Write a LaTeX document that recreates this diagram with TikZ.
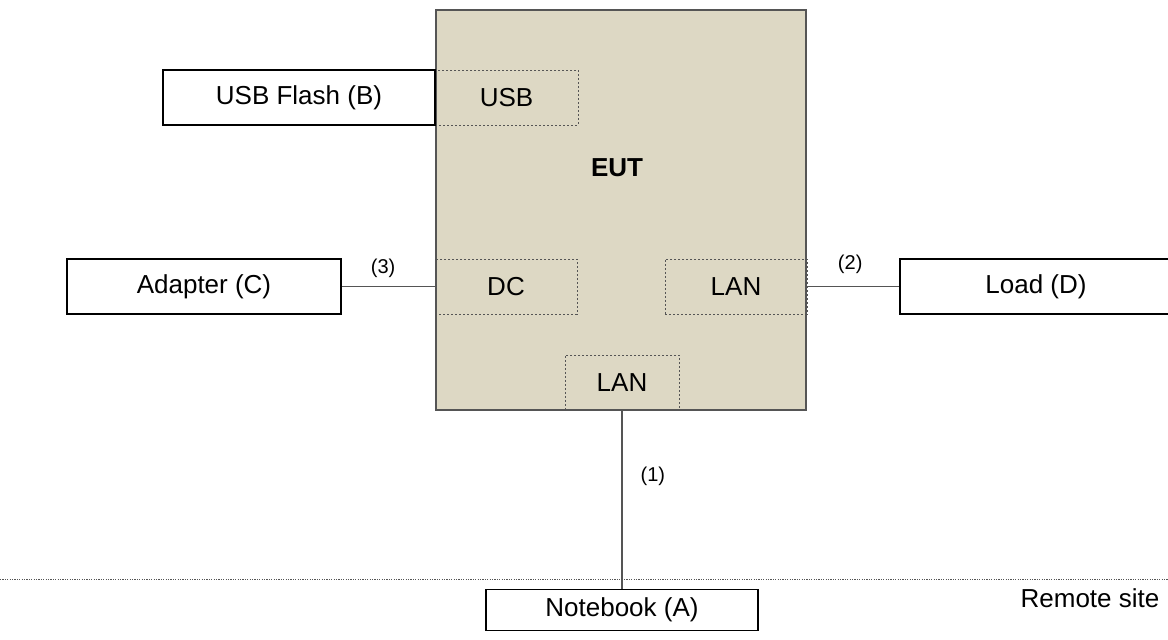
\documentclass[tikz,border=0pt]{standalone}
\usepackage{fontspec}
\setmainfont{Liberation Sans}
\definecolor{eutfill}{RGB}{221,216,196}
\definecolor{edgegray}{RGB}{85,85,85}
\begin{document}
\begin{tikzpicture}[x=0.5pt, y=-0.5pt,
    device/.style={draw=black, line width=0.6pt, fill=white, inner sep=0pt, font=\fontsize{13}{15}\selectfont},
    port/.style={draw=edgegray, dash pattern=on 1.2pt off 0.8pt, line width=0.4pt, inner sep=0pt, font=\fontsize{13}{15}\selectfont},
    cable/.style={draw=edgegray, line width=0.6pt},
    tag/.style={font=\fontsize{10}{12}\selectfont, inner sep=0pt}]
    \useasboundingbox (0,0) rectangle (1168,640);
    \node[draw=edgegray, line width=1pt, fill=eutfill, minimum width=185pt, minimum height=200pt] (eut) at (621,210) {};
    \node[font=\bfseries\fontsize{13}{15}\selectfont] (euttitle) at (617,168) {EUT};
    \node[port, minimum width=71.5pt, minimum height=27.5pt] (usb) at (506.5,97.5) {USB};
    \node[port, minimum width=71pt, minimum height=27.5pt] (dc) at (506,286.5) {DC};
    \node[port, minimum width=71pt, minimum height=27.5pt] (lanr) at (736,286.5) {LAN};
    \node[port, minimum width=57pt, minimum height=27.5pt] (lanb) at (622,382.5) {LAN};
    \node[device, minimum width=136pt, minimum height=27.5pt] (flash) at (299,97.5) {USB Flash (B)};
    \node[device, minimum width=137pt, minimum height=27.5pt] (adapter) at (204,286.5) {Adapter (C)};
    \node[device, minimum width=136pt, minimum height=27.5pt] (load) at (1036,286.5) {Load (D)};
    \node[device, minimum width=136pt, minimum height=20.5pt] (notebook) at (622,610) {Notebook (A)};
    \draw[cable] (adapter.east) -- (dc.west) node[tag, midway, above=4pt, xshift=-2.5pt] {(3)};
    \draw[cable] (eut.east |- lanr.east) -- (load.west) node[tag, midway, above=6pt, xshift=-1.5pt] {(2)};
    \draw[cable] (lanb.south) -- (notebook.north) node[tag, pos=0.37, right=9pt] {(1)};
    % remote site border
    \coordinate (sitel) at (0,580);
    \coordinate (siter) at (1168,580);
    \draw[edgegray, line width=0.5pt, dash pattern=on 0.6pt off 0.6pt] (sitel) -- (siter);
    \node[device, draw=none, fill=none] (remote) at (1090,598) {Remote site};
\end{tikzpicture}
\end{document}
